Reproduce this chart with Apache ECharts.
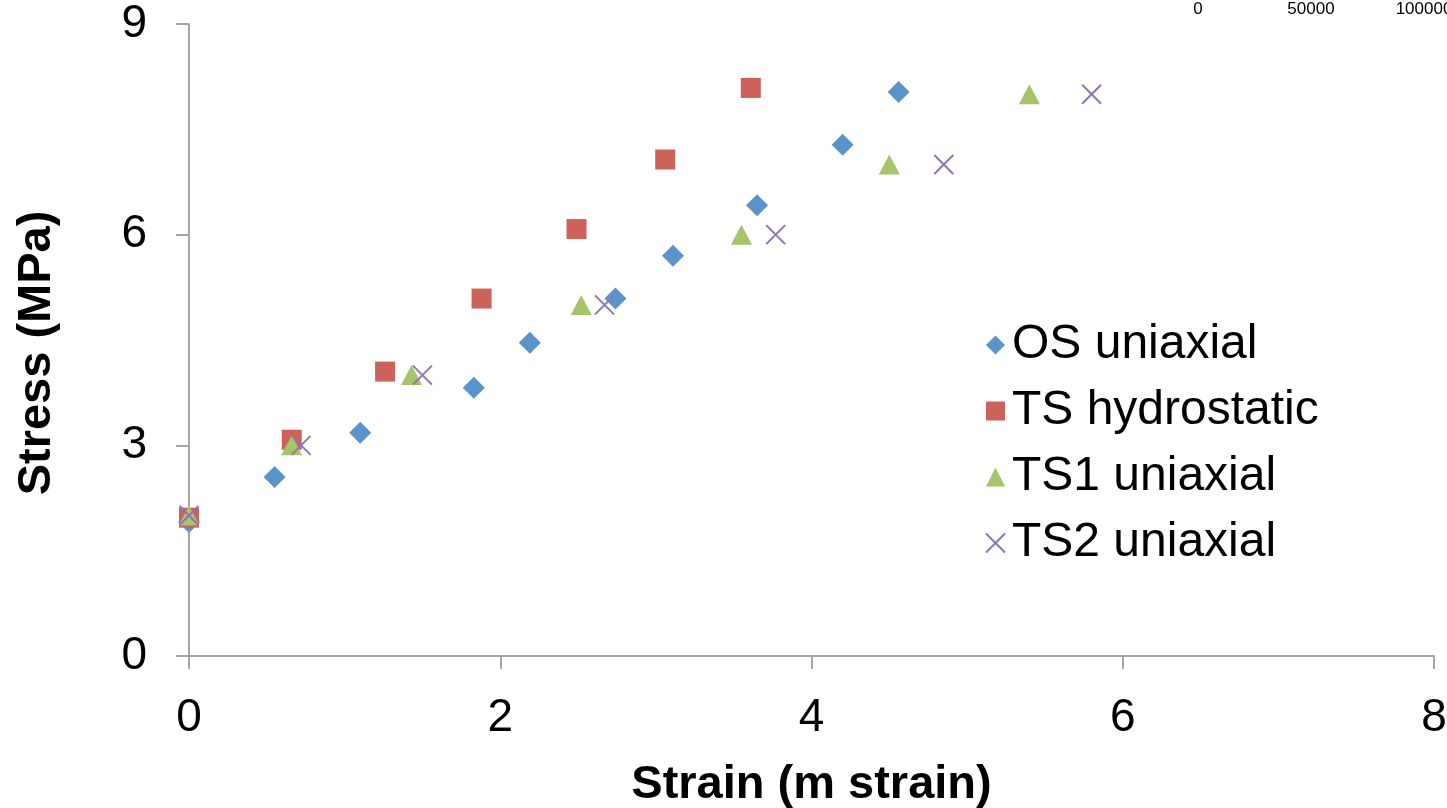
<!DOCTYPE html>
<html>
<head>
<meta charset="utf-8">
<script src="https://cdn.jsdelivr.net/npm/echarts@6/dist/echarts.min.js"></script>
<style>
html,body{margin:0;padding:0;background:#fff;}
#c{width:1447px;height:808px;}
</style>
</head>
<body>
<div id="c"></div>
<script>
const seriesNames = ['OS uniaxial', 'TS hydrostatic', 'TS1 uniaxial', 'TS2 uniaxial'];
const osStrain = [0, 0.55, 1.10, 1.83, 2.19, 2.74, 3.11, 3.65, 4.20, 4.56];
const osStress = [1.91, 2.55, 3.18, 3.82, 4.46, 5.09, 5.70, 6.42, 7.28, 8.03];
const tshStrain = [0, 0.66, 1.26, 1.88, 2.49, 3.06, 3.61];
const tshStress = [1.97, 3.08, 4.05, 5.09, 6.08, 7.07, 8.09];
const ts1Strain = [0, 0.66, 1.43, 2.52, 3.55, 4.50, 5.40];
const ts1Stress = [2.0, 3.0, 4.0, 5.0, 6.0, 7.0, 8.0];
const ts2Strain = [0, 0.72, 1.50, 2.67, 3.77, 4.85, 5.80];
const ts2Stress = [2.0, 3.0, 4.0, 5.0, 6.0, 7.0, 8.0];
const topTicks = [0, 50000, 100000];

const pair = (xs, ys) => xs.map((x, i) => [x, ys[i]]);
const font = '"Liberation Sans", Arial, sans-serif';
const axisColor = '#A6A6A6';

const chart = echarts.init(document.getElementById('c'), null, {renderer: 'canvas'});
chart.setOption({
  backgroundColor: '#fff',
  animation: false,
  textStyle: {fontFamily: font, color: '#000'},
  grid: [
    {left: 189, right: 13, top: 24, bottom: 152, containLabel: false, outerBoundsMode: 'none'},
    {left: 1198, width: 226, top: 26, height: 1, containLabel: false, outerBoundsMode: 'none'}
  ],
  legend: {
    orient: 'vertical',
    left: 980,
    top: 316,
    itemWidth: 19,
    itemHeight: 19,
    itemGap: 18,
    textStyle: {fontSize: 48, fontFamily: font, color: '#000', lineHeight: 47, padding: [0,0,0,2]},
    data: seriesNames
  },
  xAxis: [
    {
      type: 'value', gridIndex: 0, min: 0, max: 8, interval: 2,
      name: 'Strain (m strain)', nameLocation: 'middle', nameGap: 106,
      nameTextStyle: {fontSize: 47, fontWeight: 'bold', fontFamily: font, color: '#000'},
      axisLine: {show: true, lineStyle: {color: axisColor, width: 2}},
      axisTick: {show: true, length: 13, lineStyle: {color: axisColor, width: 2}},
      axisLabel: {fontSize: 46, color: '#000', fontFamily: font, margin: 39},
      splitLine: {show: false}
    },
    {
      type: 'value', gridIndex: 1, position: 'top', min: topTicks[0], max: topTicks[2], interval: topTicks[1],
      axisLine: {show: false}, axisTick: {show: false}, splitLine: {show: false},
      axisLabel: {fontSize: 17, color: '#000', fontFamily: font, margin: 8, showMaxLabel: true, showMinLabel: true,
        formatter: v => String(v)}
    }
  ],
  yAxis: [
    {
      type: 'value', gridIndex: 0, min: 0, max: 9, interval: 3,
      name: 'Stress (MPa)', nameLocation: 'middle', nameGap: 128, nameRotate: 90,
      nameTextStyle: {fontSize: 47, fontWeight: 'bold', fontFamily: font, color: '#000', padding: [0, 26, 0, 0]},
      axisLine: {show: true, lineStyle: {color: axisColor, width: 2}},
      axisTick: {show: true, length: 13, lineStyle: {color: axisColor, width: 2}},
      axisLabel: {fontSize: 46, color: '#000', fontFamily: font, margin: 42},
      splitLine: {show: false}
    },
    {
      type: 'value', gridIndex: 1, show: false, min: 0, max: 1
    }
  ],
  series: [
    {
      name: seriesNames[0], type: 'scatter', xAxisIndex: 0, yAxisIndex: 0,
      symbol: 'diamond', symbolSize: 22,
      itemStyle: {color: '#5A94CA', opacity: 1},
      data: pair(osStrain, osStress), z: 2
    },
    {
      name: seriesNames[1], type: 'scatter', xAxisIndex: 0, yAxisIndex: 0,
      symbol: 'rect', symbolSize: 20,
      itemStyle: {color: '#CD625A', opacity: 1},
      data: pair(tshStrain, tshStress), z: 3
    },
    {
      name: seriesNames[2], type: 'scatter', xAxisIndex: 0, yAxisIndex: 0,
      symbol: 'triangle', symbolSize: [21, 20],
      itemStyle: {color: '#A6C46B', opacity: 1},
      data: pair(ts1Strain, ts1Stress), z: 4
    },
    {
      name: seriesNames[3], type: 'scatter', xAxisIndex: 0, yAxisIndex: 0,
      symbol: 'path://M0,0L10,10M10,0L0,10', symbolSize: 19,
      itemStyle: {color: 'rgba(0,0,0,0)', borderColor: '#8F75B1', borderWidth: 2, opacity: 1},
      data: pair(ts2Strain, ts2Stress), z: 5
    }
  ]
});
</script>
</body>
</html>
